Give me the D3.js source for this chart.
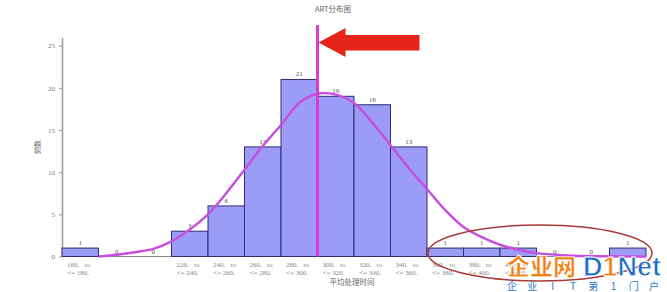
<!DOCTYPE html>
<html>
<head>
<meta charset="utf-8">
<script src="https://cdn.jsdelivr.net/npm/d3@7"></script>
<style>
  body { margin: 0; background: #fff; }
</style>
</head>
<body>
<div id="chart"></div>
<script>
// histogram bins (left edge of each 20-wide bin) and their counts
const binStarts = [160, 180, 200, 220, 240, 260, 280, 300, 320, 340, 360, 380, 400, 420, 440, 460];
const counts    = [1, 0, 0, 3, 6, 13, 21, 19, 18, 13, 1, 1, 1, 0, 0, 1];
const tickLabels = [
  ["160.   to", "<= 180."], null, null,
  ["220.   to", "<= 240."], ["240.   to", "<= 260."], ["260.   to", "<= 280."],
  ["280.   to", "<= 300."], ["300.   to", "<= 320."], ["320.   to", "<= 340."],
  ["340.   to", "<= 360."], ["360.   to", "<= 380."], ["380.   to", "<= 400."],
  ["400.   to", "<= 420."], null, null, null
];
const yTicks = [0, 5, 10, 15, 20, 25];

// fitted curve
const curveX = [180, 190, 200, 210, 220, 230, 240, 250, 260, 270, 280, 290, 300, 310, 320, 330, 340, 350, 360, 370, 380, 390, 400, 410, 420, 440, 460, 480];
const curveY = [0.0, 0.2, 0.5, 0.9, 1.8, 3.2, 5.0, 7.5, 10.3, 13.1, 15.6, 18.2, 19.3, 19.2, 18.2, 15.9, 13.2, 10.5, 8.0, 5.5, 3.5, 2.3, 1.4, 0.8, 0.4, 0.1, 0.02, 0.0];

const meanValue = 300;
const binWidth = 20;
const serif = "'Liberation Serif', 'DejaVu Serif', serif";
const cjk = "'Noto Sans CJK SC', sans-serif";

const width = 667, height = 292;
const svg = d3.select("#chart").append("svg")
  .attr("width", width).attr("height", height);

const xScale = d3.scaleLinear().domain([160, 480]).range([62, 646]);
const yScale = d3.scaleLinear().domain([0, 26]).range([256.5, 37.3]);

// title
svg.append("text")
  .attr("x", 333).attr("y", 12)
  .attr("text-anchor", "middle")
  .style("font-family", cjk)
  .attr("font-size", 7.5).attr("fill", "#666")
  .text("ART分布图");

// y axis
const yAxis = svg.append("g")
  .attr("transform", `translate(${xScale(160)},0)`)
  .call(d3.axisLeft(yScale).tickValues(yTicks).tickSize(3).tickSizeOuter(0));
yAxis.select(".domain").attr("stroke", "#999").attr("stroke-width", 1.5);
yAxis.selectAll(".tick line").attr("stroke", "#999");
yAxis.selectAll(".tick text").attr("fill", "#777").attr("font-size", 7)
  .style("font-family", serif).attr("x", -7);

svg.append("text")
  .attr("transform", `translate(40,147) rotate(-90)`)
  .attr("text-anchor", "middle")
  .style("font-family", cjk)
  .attr("font-size", 7).attr("fill", "#666")
  .text("频数");

// baseline
svg.append("line")
  .attr("x1", xScale(160)).attr("x2", xScale(480))
  .attr("y1", yScale(0)).attr("y2", yScale(0))
  .attr("stroke", "#888").attr("stroke-width", 1);

// bars
const bins = binStarts.map((b, i) => ({start: b, count: counts[i], label: tickLabels[i]}));
svg.selectAll(".bar")
  .data(bins.filter(d => d.count > 0))
  .join("rect")
  .attr("class", "bar")
  .attr("x", d => xScale(d.start))
  .attr("y", d => yScale(d.count))
  .attr("width", d => xScale(d.start + binWidth) - xScale(d.start))
  .attr("height", d => yScale(0) - yScale(d.count))
  .attr("fill", "#9c9cf6")
  .attr("stroke", "#2f2f70")
  .attr("stroke-width", 1);

// value labels
svg.selectAll(".bar-label")
  .data(bins)
  .join("text")
  .attr("class", "bar-label")
  .attr("x", d => xScale(d.start + binWidth / 2))
  .attr("y", d => yScale(d.count) - 3)
  .attr("text-anchor", "middle")
  .style("font-family", serif)
  .attr("font-size", 7).attr("fill", "#555")
  .text(d => d.count);

// x tick labels (two lines)
const tl = svg.selectAll(".tick-label")
  .data(bins.filter(d => d.label))
  .join("text")
  .attr("class", "tick-label")
  .style("font-family", serif)
  .attr("font-size", 7).attr("fill", "#888");
tl.append("tspan")
  .attr("x", d => xScale(d.start) + 5).attr("y", 267)
  .style("white-space", "pre")
  .text(d => d.label[0]);
tl.append("tspan")
  .attr("x", d => xScale(d.start) + 5).attr("y", 275)
  .text(d => d.label[1]);

svg.append("text")
  .attr("x", 352).attr("y", 285)
  .attr("text-anchor", "middle")
  .style("font-family", cjk)
  .attr("font-size", 7.5).attr("fill", "#666")
  .text("平均处理时间");

// fitted curve
const curvePts = curveX.map((x, i) => [x, curveY[i]]);
const line = d3.line()
  .x(d => xScale(d[0]))
  .y(d => yScale(d[1]))
  .curve(d3.curveCatmullRom.alpha(0.5));
svg.append("path")
  .datum(curvePts)
  .attr("fill", "none")
  .attr("stroke", "#c64fe0")
  .attr("stroke-width", 2.5)
  .attr("d", line);

// mean marker
svg.append("line")
  .attr("x1", xScale(meanValue)).attr("x2", xScale(meanValue))
  .attr("y1", 25).attr("y2", yScale(0))
  .attr("stroke", "#d93bd9").attr("stroke-width", 3);

// red arrow pointing at mean marker
const ax = xScale(meanValue) + 1, ay = 42.5;
const arrowPts = [
  [ax, ay], [ax + 27, ay - 14.5], [ax + 27, ay - 7.5], [ax + 101, ay - 7.5],
  [ax + 101, ay + 8], [ax + 27, ay + 8], [ax + 27, ay + 14.5]
];
svg.append("polygon")
  .attr("points", arrowPts.map(p => p.join(",")).join(" "))
  .attr("fill", "#e6241a");

// highlight ellipse around the tail
svg.append("ellipse")
  .attr("cx", 540).attr("cy", 253)
  .attr("rx", 112).attr("ry", 28)
  .attr("fill", "none")
  .attr("stroke", "#a83a3a").attr("stroke-width", 1.5);

// watermark
svg.append("text")
  .attr("x", 507).attr("y", 275)
  .style("font-family", cjk)
  .attr("font-weight", "900")
  .attr("font-size", 23).attr("fill", "#f07f14")
  .attr("stroke", "#fff").attr("stroke-width", 0.8)
  .text("企业网");
const d1 = svg.append("text")
  .attr("x", 583).attr("y", 276)
  .style("font-family", "'Liberation Sans', Arial, sans-serif")
  .attr("font-weight", "bold")
  .attr("font-size", 27).attr("fill", "#1f6fc4")
  .attr("stroke", "#fff").attr("stroke-width", 0.8);
d1.append("tspan").text("D");
d1.append("tspan").attr("fill", "#f07f14").text("1");
d1.append("tspan").text("Net");
svg.append("g").selectAll("text")
  .data(["企", "业", "I", "T", "第", "1", "门", "户"])
  .join("text")
  .attr("x", (d, i) => 512 + i * 20.3)
  .attr("y", 290)
  .attr("text-anchor", "middle")
  .style("font-family", cjk)
  .attr("font-size", 10).attr("fill", "#2a7ac8")
  .text(d => d);
</script>
</body>
</html>
